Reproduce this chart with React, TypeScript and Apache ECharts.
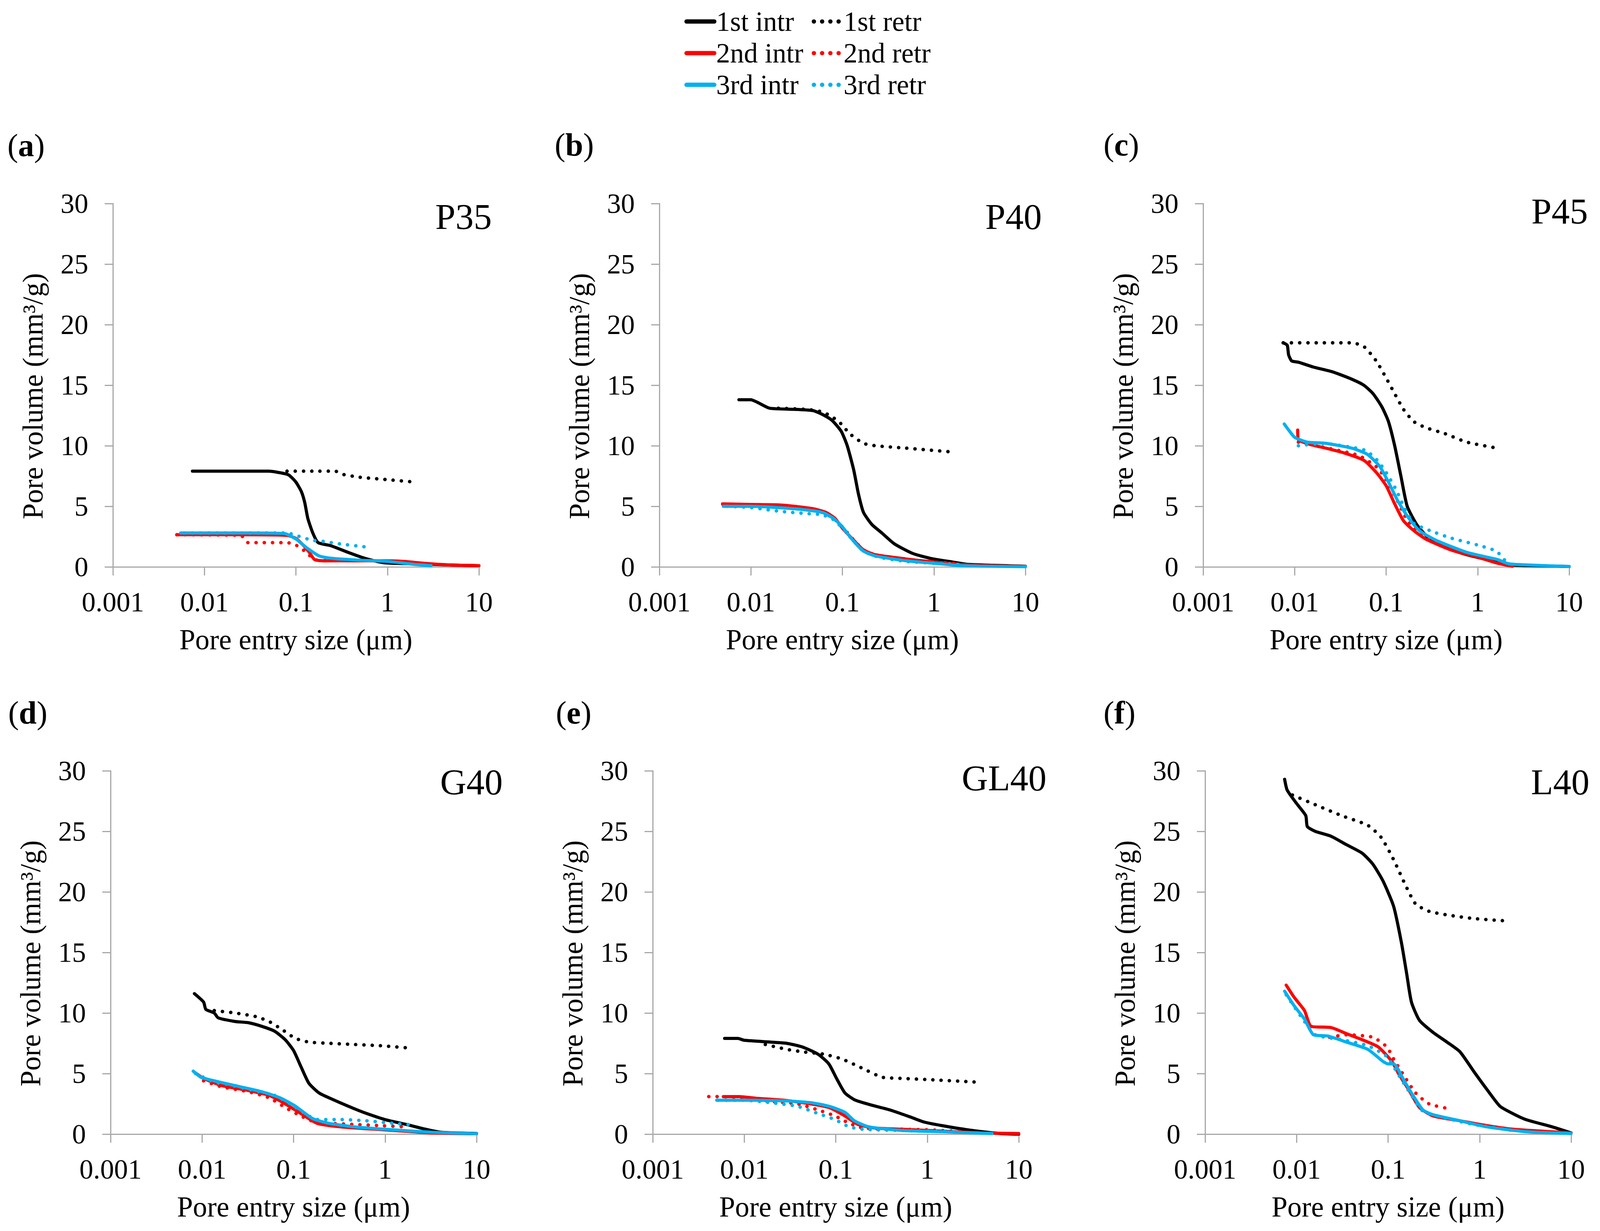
import React, { useEffect, useRef } from "react";
import * as echarts from "echarts";

// ---------- data (pore entry size in µm, pore volume in mm³/g) ----------
const seriesNames = ["1st intr", "1st retr", "2nd intr", "2nd retr", "3rd intr", "3rd retr"];
const panelTitles = ["P35", "P40", "P45", "G40", "GL40", "L40"];
const panelLetters = ["a", "b", "c", "d", "e", "f"];
const xTickLabels = ["0.001", "0.01", "0.1", "1", "10"];

// (a) P35
const a_int1 = [[0.0074, 7.9], [0.02, 7.9], [0.05, 7.9], [0.064, 7.8], [0.083, 7.6], [0.1, 7.0], [0.115, 6.2], [0.125, 5.3], [0.135, 4.0], [0.153, 2.8], [0.175, 2.0], [0.24, 1.75], [0.37, 1.2], [0.57, 0.7], [0.9, 0.35], [2, 0.25], [5, 0.15], [10, 0.1]];
const a_ret1 = [[0.08, 7.9], [0.15, 7.9], [0.27, 7.9], [0.32, 7.65], [0.5, 7.4], [1.0, 7.2], [2.0, 7.0]];
const a_int2 = [[0.005, 2.65], [0.02, 2.65], [0.08, 2.6], [0.1, 2.35], [0.12, 1.8], [0.14, 1.2], [0.16, 0.6], [0.2, 0.5], [0.5, 0.5], [1, 0.5], [1.5, 0.45], [2.5, 0.3], [5, 0.15], [10, 0.1]];
const a_ret2 = [[0.005, 2.65], [0.025, 2.6], [0.03, 2.0], [0.08, 2.0], [0.1, 1.8], [0.13, 1.2], [0.16, 0.6], [0.25, 0.5]];
const a_int3 = [[0.0055, 2.8], [0.03, 2.8], [0.075, 2.75], [0.1, 2.3], [0.13, 1.6], [0.18, 0.9], [0.25, 0.7], [0.5, 0.55], [1, 0.45], [2, 0.2], [3, 0.1]];
const a_ret3 = [[0.006, 2.8], [0.08, 2.8], [0.1, 2.6], [0.15, 2.2], [0.2, 2.1], [0.3, 1.9], [0.5, 1.7], [0.65, 1.6]];

// (b) P40
const b_int1 = [[0.0074, 13.8], [0.01, 13.8], [0.0117, 13.6], [0.016, 13.1], [0.032, 13.0], [0.048, 12.9], [0.06, 12.6], [0.077, 12.1], [0.097, 11.2], [0.113, 10.0], [0.133, 8.0], [0.15, 6.0], [0.17, 4.5], [0.21, 3.5], [0.27, 2.8], [0.37, 1.9], [0.59, 1.1], [0.92, 0.7], [1.6, 0.4], [2.4, 0.2], [10, 0.05]];
const b_ret1 = [[0.02, 13.1], [0.041, 13.0], [0.06, 12.8], [0.077, 12.4], [0.097, 11.8], [0.12, 11.0], [0.17, 10.2], [0.23, 10.0], [0.5, 9.8], [1.5, 9.5]];
const b_int2 = [[0.0049, 5.2], [0.01, 5.15], [0.022, 5.1], [0.048, 4.8], [0.066, 4.5], [0.083, 4.0], [0.1, 3.2], [0.133, 2.2], [0.17, 1.4], [0.23, 1.0], [0.5, 0.65], [1, 0.4], [2.4, 0.15], [10, 0.03]];
const b_ret2 = [[0.005, 5.1], [0.01, 5.05], [0.03, 4.9], [0.06, 4.5], [0.08, 4.0], [0.1, 3.3], [0.13, 2.3], [0.17, 1.4], [0.25, 0.9], [0.5, 0.6], [1, 0.4], [2, 0.25]];
const b_int3 = [[0.005, 5.0], [0.01, 5.0], [0.03, 4.8], [0.06, 4.5], [0.08, 4.0], [0.1, 3.3], [0.13, 2.2], [0.17, 1.3], [0.23, 0.9], [0.5, 0.5], [1, 0.3], [2, 0.1], [10, 0.02]];
const b_ret3 = [[0.0055, 5.0], [0.01, 4.9], [0.02, 4.6], [0.04, 4.4], [0.06, 4.3], [0.08, 3.9], [0.1, 3.2], [0.13, 2.2], [0.17, 1.3], [0.25, 0.8], [0.5, 0.45], [1, 0.3], [2, 0.2]];

// (c) P45
const c_int1 = [[0.0075, 18.5], [0.0083, 18.3], [0.0086, 17.5], [0.0093, 17.0], [0.011, 16.9], [0.016, 16.5], [0.026, 16.1], [0.042, 15.5], [0.057, 15.0], [0.072, 14.3], [0.09, 13.2], [0.106, 12.0], [0.124, 10.0], [0.145, 7.5], [0.17, 5.0], [0.22, 3.4], [0.3, 2.3], [0.44, 1.6], [0.76, 1.0], [1.65, 0.4], [2.4, 0.15], [10, 0.03]];
const c_ret1 = [[0.0075, 18.5], [0.02, 18.5], [0.042, 18.5], [0.057, 18.2], [0.078, 17.0], [0.1, 15.6], [0.124, 14.3], [0.155, 13.0], [0.2, 12.0], [0.27, 11.5], [0.44, 11.0], [0.76, 10.3], [1.65, 9.8]];
const c_int2 = [[0.0108, 11.3], [0.011, 10.5], [0.0149, 10.1], [0.022, 9.8], [0.035, 9.4], [0.057, 8.8], [0.078, 7.8], [0.1, 6.7], [0.124, 5.2], [0.155, 3.8], [0.2, 3.0], [0.27, 2.3], [0.51, 1.4], [1, 0.8], [1.65, 0.3], [2.4, 0.05]];
const c_ret2 = [[0.011, 10.3], [0.02, 9.9], [0.05, 9.2], [0.08, 8.2], [0.1, 7.2], [0.13, 5.6], [0.16, 4.2], [0.2, 3.2], [0.3, 2.4], [0.5, 1.6], [1, 0.9], [1.8, 0.4]];
const c_int3 = [[0.0077, 11.8], [0.0086, 11.3], [0.01, 10.7], [0.0138, 10.3], [0.022, 10.2], [0.042, 9.8], [0.062, 9.3], [0.085, 8.3], [0.106, 7.0], [0.133, 5.5], [0.17, 4.2], [0.23, 3.0], [0.35, 2.2], [0.76, 1.2], [1.65, 0.6], [2.2, 0.25], [3.6, 0.15], [10, 0.03]];
const c_ret3 = [[0.011, 10.0], [0.02, 10.2], [0.04, 9.9], [0.06, 9.6], [0.08, 8.8], [0.1, 7.8], [0.13, 6.3], [0.16, 4.8], [0.2, 3.6], [0.3, 3.0], [0.5, 2.4], [1, 1.8], [1.6, 1.3], [2.0, 0.5]];

// (d) G40
const d_int1 = [[0.00825, 11.6], [0.0104, 10.9], [0.011, 10.3], [0.0136, 10.0], [0.015, 9.6], [0.023, 9.3], [0.032, 9.2], [0.045, 8.9], [0.062, 8.5], [0.081, 7.8], [0.1, 6.9], [0.12, 5.6], [0.147, 4.2], [0.19, 3.4], [0.27, 2.85], [0.46, 2.1], [0.63, 1.7], [1.0, 1.2], [1.7, 0.8], [2.6, 0.45], [4.1, 0.15], [10, 0.05]];
const d_ret1 = [[0.0136, 10.2], [0.023, 10.0], [0.039, 9.7], [0.054, 9.3], [0.076, 8.6], [0.105, 7.9], [0.147, 7.6], [0.24, 7.5], [0.46, 7.4], [0.89, 7.3], [1.9, 7.1]];
const d_int2 = [[0.0083, 5.1], [0.0104, 4.6], [0.0165, 4.0], [0.032, 3.6], [0.054, 3.2], [0.081, 2.5], [0.12, 1.7], [0.18, 0.9], [0.33, 0.6], [1.0, 0.35], [3.3, 0.1], [10, 0.03]];
const d_ret2 = [[0.0104, 4.4], [0.0165, 3.9], [0.032, 3.5], [0.054, 3.0], [0.081, 2.2], [0.12, 1.5], [0.17, 1.0], [0.24, 0.9], [0.46, 0.8], [0.89, 0.7], [1.7, 0.6]];
const d_int3 = [[0.008, 5.2], [0.0097, 4.7], [0.0136, 4.4], [0.023, 4.0], [0.045, 3.5], [0.071, 3.0], [0.105, 2.3], [0.16, 1.3], [0.24, 0.9], [0.46, 0.6], [1, 0.4], [3.3, 0.15], [10, 0.03]];
const d_ret3 = [[0.0085, 5.0], [0.0136, 4.3], [0.019, 4.1], [0.037, 3.6], [0.062, 3.2], [0.092, 2.5], [0.14, 1.6], [0.18, 1.2], [0.33, 1.2], [0.63, 1.1], [1.2, 0.9], [2.1, 0.75]];

// (e) GL40
const e_int1 = [[0.0061, 7.9], [0.0085, 7.9], [0.01, 7.75], [0.0195, 7.6], [0.029, 7.5], [0.043, 7.2], [0.064, 6.6], [0.084, 5.8], [0.102, 4.6], [0.126, 3.4], [0.164, 2.8], [0.245, 2.4], [0.39, 2.0], [0.66, 1.4], [0.92, 1.0], [1.45, 0.7], [2.8, 0.35], [6.2, 0.05], [10, 0.0]];
const e_ret1 = [[0.017, 7.4], [0.029, 7.0], [0.043, 6.8], [0.074, 6.6], [0.117, 6.2], [0.2, 5.4], [0.32, 4.7], [0.53, 4.6], [1.03, 4.5], [3.4, 4.3]];
const e_int2 = [[0.0059, 3.1], [0.0088, 3.1], [0.014, 2.95], [0.027, 2.8], [0.053, 2.5], [0.084, 2.2], [0.126, 1.5], [0.175, 0.8], [0.27, 0.5], [0.53, 0.4], [1.45, 0.25], [3.9, 0.1], [10, 0.05]];
const e_ret2 = [[0.0041, 3.1], [0.0052, 3.1], [0.01, 3.0], [0.0195, 2.7], [0.038, 2.5], [0.064, 2.0], [0.098, 1.5], [0.14, 0.9], [0.2, 0.5], [0.53, 0.4], [1.03, 0.35], [2.6, 0.2]];
const e_int3 = [[0.005, 2.8], [0.01, 2.8], [0.027, 2.75], [0.053, 2.6], [0.084, 2.3], [0.126, 1.8], [0.16, 1.1], [0.23, 0.6], [0.53, 0.3], [1.45, 0.2], [5.1, 0.05]];
const e_ret3 = [[0.0052, 2.8], [0.01, 2.8], [0.0195, 2.6], [0.038, 2.3], [0.064, 1.7], [0.098, 1.2], [0.14, 0.6], [0.2, 0.4], [0.53, 0.3], [2.0, 0.2]];

// (f) L40
const f_int1 = [[0.0074, 29.3], [0.0079, 28.4], [0.01, 27.3], [0.0126, 26.3], [0.0131, 25.4], [0.016, 25.0], [0.0237, 24.6], [0.035, 23.9], [0.052, 23.2], [0.068, 22.3], [0.088, 20.9], [0.115, 18.8], [0.14, 15.8], [0.16, 13.2], [0.18, 10.9], [0.22, 9.4], [0.31, 8.4], [0.44, 7.6], [0.61, 6.8], [0.86, 5.2], [1.2, 3.7], [1.67, 2.3], [2.3, 1.7], [3.2, 1.2], [6.2, 0.6], [10, 0.1]];
const f_ret1 = [[0.009, 28.0], [0.016, 27.2], [0.031, 26.3], [0.06, 25.5], [0.084, 24.5], [0.116, 22.6], [0.154, 20.6], [0.2, 19.0], [0.28, 18.4], [0.44, 18.1], [0.86, 17.8], [2.0, 17.6]];
const f_int2 = [[0.0077, 12.3], [0.0094, 11.3], [0.0122, 10.2], [0.0144, 8.9], [0.0237, 8.8], [0.035, 8.3], [0.052, 7.8], [0.078, 7.2], [0.11, 6.0], [0.13, 5.0], [0.17, 3.6], [0.22, 2.2], [0.31, 1.5], [0.61, 1.1], [1.2, 0.7], [2.3, 0.4], [10, 0.1]];
const f_ret2 = [[0.023, 8.0], [0.035, 8.2], [0.068, 8.0], [0.097, 7.2], [0.115, 6.2], [0.15, 4.8], [0.2, 3.4], [0.28, 2.5], [0.46, 2.1]];
const f_int3 = [[0.0074, 11.8], [0.0094, 10.6], [0.0122, 9.5], [0.0153, 8.2], [0.022, 8.1], [0.035, 7.6], [0.06, 7.0], [0.088, 6.0], [0.1, 5.8], [0.115, 5.8], [0.15, 4.4], [0.18, 3.4], [0.24, 2.0], [0.31, 1.6], [0.61, 1.1], [1.2, 0.6], [3.2, 0.2], [10, 0.05]];
const f_ret3 = [[0.0077, 11.5], [0.0122, 9.3], [0.016, 8.2], [0.031, 7.8], [0.06, 7.3], [0.097, 6.4], [0.13, 4.9], [0.17, 3.5], [0.24, 1.9], [0.44, 1.3], [0.86, 0.8], [2.3, 0.3]];

const panelSeries = [
  [a_int1, a_ret1, a_int2, a_ret2, a_int3, a_ret3],
  [b_int1, b_ret1, b_int2, b_ret2, b_int3, b_ret3],
  [c_int1, c_ret1, c_int2, c_ret2, c_int3, c_ret3],
  [d_int1, d_ret1, d_int2, d_ret2, d_int3, d_ret3],
  [e_int1, e_ret1, e_int2, e_ret2, e_int3, e_ret3],
  [f_int1, f_ret1, f_int2, f_ret2, f_int3, f_ret3],
];

// ---------- layout & style (design space 4259 x 3151, scaled to the real viewport) ----------
const W = 4259;
const H = 3151;
const FONT = "'Liberation Serif', 'Times New Roman', Times, serif";
const AXIS = "#a8a8a8";
const COLORS = ["#000000", "#000000", "#ff0000", "#ff0000", "#00b0f0", "#00b0f0"];
const GRIDS = [
  { left: 301, top: 521 },
  { left: 1755, top: 521 },
  { left: 3203, top: 521 },
  { left: 294, top: 1973 },
  { left: 1737, top: 1973 },
  { left: 3208, top: 1973 },
];
const GRID_W = 974;
const GRID_H = 930;
const TITLE_POS = [[1309, 554], [2773, 554], [4227, 540], [1338, 2001], [2786, 1991], [4231, 2001]];
const LETTER_POS = [[20, 372], [1477, 370], [2937, 370], [22, 1824], [1480, 1824], [2937, 1824]];

function buildOption(sx: number, sy: number) {
  const s = Math.sqrt(sx * sy);
  const X = (v: number) => Math.round(v * sx);
  const Y = (v: number) => Math.round(v * sy);
  const F = (v: number) => Math.round(v * s);
  const grid = GRIDS.map((g) => ({ left: X(g.left), top: Y(g.top), width: X(GRID_W), height: Y(GRID_H), containLabel: false }));
  const xAxis = GRIDS.map((_, i) => ({
    type: "log",
    logBase: 10,
    gridIndex: i,
    min: 0.001,
    max: 10,
    axisLine: { show: true, onZero: false, lineStyle: { color: AXIS, width: 3 } },
    axisTick: { show: true, length: Y(22), lineStyle: { color: AXIS, width: 3 } },
    minorTick: { show: false },
    splitLine: { show: false },
    axisLabel: {
      fontSize: F(72),
      fontFamily: FONT,
      color: "#000",
      margin: Y(54),
      formatter: (v: number) => xTickLabels[Math.round(Math.log10(v)) + 3] ?? "",
    },
    name: "Pore entry size (μm)",
    nameLocation: "middle",
    nameGap: Y(150),
    nameTextStyle: { fontSize: F(74), fontFamily: FONT, color: "#000" },
  }));
  const yAxis = GRIDS.map((_, i) => ({
    type: "value",
    gridIndex: i,
    min: 0,
    max: 30,
    interval: 5,
    axisLine: { show: true, lineStyle: { color: AXIS, width: 3 } },
    axisTick: { show: true, length: X(22), lineStyle: { color: AXIS, width: 3 } },
    splitLine: { show: false },
    axisLabel: { fontSize: F(72), fontFamily: FONT, color: "#000", margin: X(65) },
    name: "Pore volume (mm³/g)",
    nameLocation: "middle",
    nameRotate: 90,
    nameGap: X(175),
    nameTextStyle: { fontSize: F(74), fontFamily: FONT, color: "#000", padding: [0, Y(56), 0, 0] },
  }));
  const series: any[] = [];
  panelSeries.forEach((list, p) => {
    list.forEach((data, k) => {
      const dotted = k % 2 === 1;
      series.push({
        type: "line",
        name: seriesNames[k],
        xAxisIndex: p,
        yAxisIndex: p,
        data,
        symbol: "none",
        smooth: 0.2,
        clip: true,
        lineStyle: dotted
          ? { color: COLORS[k], width: F(9), type: [0.1, F(21)], cap: "round" }
          : { color: COLORS[k], width: F(8.5), type: "solid", cap: "round", join: "round" },
        itemStyle: { color: COLORS[k] },
        z: 2 + k,
      });
    });
  });
  const legendCommon = {
    orient: "vertical",
    top: Y(14),
    itemWidth: F(72),
    itemHeight: F(40),
    itemGap: Y(9),
    selectedMode: false,
    textStyle: { fontSize: F(72), fontFamily: FONT, color: "#000", lineHeight: Y(72) },
    lineStyle: { width: F(11) },
    itemStyle: { opacity: 0, borderWidth: 0 },
  };
  const legend = [
    { ...legendCommon, left: X(1817), data: [seriesNames[0], seriesNames[2], seriesNames[4]] },
    { ...legendCommon, left: X(2156), data: [seriesNames[1], seriesNames[3], seriesNames[5]] },
  ];
  const graphic: any[] = [];
  panelTitles.forEach((t, i) => {
    graphic.push({
      type: "text",
      x: X(TITLE_POS[i][0]),
      y: Y(TITLE_POS[i][1]),
      style: {
        text: t,
        fontSize: F(95),
        fontFamily: FONT,
        fill: "#000",
        align: "right",
        verticalAlign: "middle",
        textAlign: "right",
        textVerticalAlign: "middle",
      },
    });
  });
  panelLetters.forEach((l, i) => {
    graphic.push({
      type: "text",
      x: X(LETTER_POS[i][0]),
      y: Y(LETTER_POS[i][1]),
      style: {
        text: "({b|" + l + "})",
        fontSize: F(84),
        fontFamily: FONT,
        fill: "#000",
        align: "left",
        verticalAlign: "middle",
        textAlign: "left",
        textVerticalAlign: "middle",
        rich: { b: { fontSize: F(84), fontFamily: FONT, fontWeight: "bold", fill: "#000" } },
      },
    });
  });
  return {
    animation: false,
    backgroundColor: "#ffffff",
    grid,
    xAxis,
    yAxis,
    series,
    legend,
    graphic,
  };
}

export default function App() {
  const ref = useRef<HTMLDivElement>(null);
  useEffect(() => {
    const el = ref.current;
    if (!el) return;
    const w = el.clientWidth || W;
    const h = el.clientHeight || H;
    const chart = echarts.init(el, undefined, { renderer: "svg", width: w, height: h });
    chart.setOption(buildOption(w / W, h / H) as any);
    return () => chart.dispose();
  }, []);
  return (
    <div
      ref={ref}
      style={{ position: "fixed", left: 0, top: 0, width: "100vw", height: "100vh", background: "#fff", overflow: "hidden" }}
    />
  );
}
